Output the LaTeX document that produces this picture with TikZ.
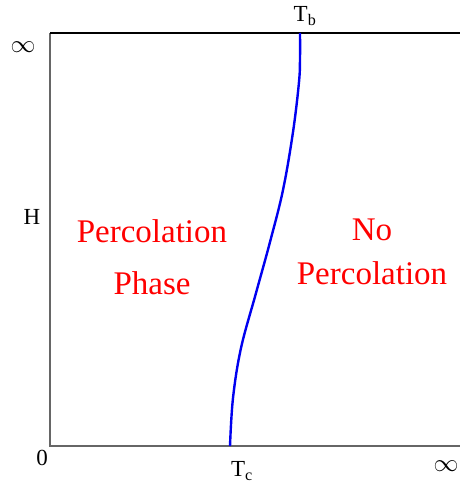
\documentclass[tikz,border=0pt]{standalone}
\usepackage{fontspec}
\setmainfont{Liberation Serif}
\usepackage{xcolor}
\usetikzlibrary{positioning}
\definecolor{pcBlue}{RGB}{0,0,240}
\definecolor{pcRed}{RGB}{255,0,0}

\begin{document}
\begin{tikzpicture}[x=1pt, y=-1pt,
    axislabel/.style={inner sep=0pt, font=\fontsize{23}{23}\selectfont},
    inflabel/.style={inner sep=0pt, font=\fontsize{27}{27}\selectfont},
    phaselabel/.style={inner sep=0pt, text=pcRed, align=center, font=\fontsize{33}{52}\selectfont}]
  \useasboundingbox (0,0) rectangle (460,487);
  \clip (0,0) rectangle (460,487);
  % frame
  \coordinate (origin) at (50,446);
  \coordinate (topleft) at (50,33);
  \coordinate (topright) at (470,33);
  \coordinate (botright) at (470,446);
  \draw[line width=1.4pt, black!60] (topleft) -- (origin) -- (botright);
  \draw[line width=1.4pt] (topleft) -- (topright);
  % axis labels
  \node[inflabel] (inftop) at (23,47) {$\infty$};
  \node[axislabel] (hlab) at (32,217) {H};
  \node[axislabel] (zero) at (42,458) {0};
  \node[inflabel] (infright) at (446,466) {$\infty$};
  \node[axislabel] (tc) at (242,471) {T\textsubscript{c}};
  \node[axislabel] (tb) at (305,16) {T\textsubscript{b}};
  % phase boundary
  \draw[pcBlue, line width=2.4pt] plot[smooth, tension=0.6] coordinates
    {(230,446) (233,398) (241,348) (256,293) (270,242) (283,190) (293,132) (299,82) (300,58) (300,33)};
  % phases
  \node[phaselabel] (perc) at (152,257) {Percolation\\Phase};
  \node[phaselabel, font=\fontsize{33}{44}\selectfont] (noperc) at (372,252) {No\\Percolation};
\end{tikzpicture}
\end{document}
